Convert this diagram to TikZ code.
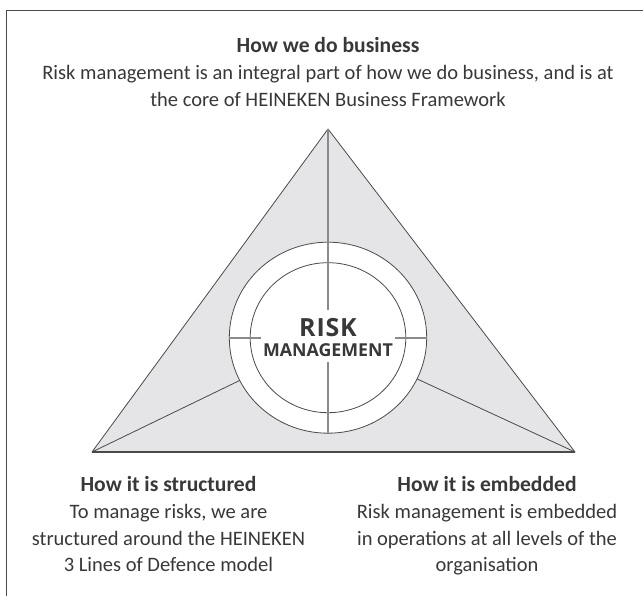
\documentclass[tikz,border=0pt]{standalone}
\usepackage{fontspec}
\setmainfont{Carlito}
\newfontfamily\hubfont{Open Sans}
\usetikzlibrary{calc}
\definecolor{ink}{HTML}{383838}
\definecolor{edge}{HTML}{4A4A4A}
\definecolor{tint}{HTML}{E5E5E7}
\definecolor{hair}{HTML}{8A8A8A}
\tikzset{
  frame/.style={draw=edge, line width=0.9pt},
  tri/.style={fill=tint, draw=edge, line width=0.8pt, line join=round},
  base/.style={draw=edge, line width=1.3pt},
  spoke/.style={draw=edge, line width=0.8pt},
  ring/.style={fill=white, draw=edge, line width=0.8pt},
  cross/.style={draw=hair, line width=1.4pt},
  head/.style={anchor=base, inner sep=0pt, text=ink, font=\fontsize{21.6}{25}\selectfont\bfseries},
  body/.style={anchor=base, inner sep=0pt, text=ink, font=\fontsize{20.5}{24}\selectfont},
  hub/.style={anchor=base, inner sep=0pt, text=ink, font=\hubfont\bfseries},
}
\begin{document}
\begin{tikzpicture}[x=1pt, y=-1pt]
  \useasboundingbox (0,0) rectangle (643,596);

  % page frame (top and left rules)
  \draw[frame] (643,10) -- (6,10) -- (6,596);

  % triangle corners and centre of the hub
  \coordinate (apex) at (328,129);
  \coordinate (bl) at (92,452);
  \coordinate (br) at (575,452);
  \coordinate (c) at (328,337.7);

  \path[tri] (bl) -- (apex) -- (br) -- cycle;
  \draw[base] (bl) -- (br);
  \draw[spoke] (bl) -- (c);
  \draw[spoke] (br) -- (c);

  % hub rings
  \path[ring] (c) ellipse [x radius=98.7, y radius=95.5];
  \path[ring] (c) ellipse [x radius=77.8, y radius=75];

  % cross hairs
  \draw[cross] (apex) -- ($(c)+(0,-27.7)$);
  \draw[cross] ($(c)+(0,24.3)$) -- ($(c)+(0,95.5)$);
  \draw[cross] ($(c)+(-98.7,0.3)$) -- ($(c)+(-67,0.3)$);
  \draw[cross] ($(c)+(67,0.3)$) -- ($(c)+(98.7,0.3)$);

  % hub label
  \node[hub, font=\hubfont\bfseries\fontsize{25}{28}\selectfont] (risk) at (328,336) {R\kern0.8pt I\kern0.8pt S\kern0.8pt K};
  \node[hub, font=\hubfont\bfseries\fontsize{17.8}{21}\selectfont] (mgmt) at (328,356) {MANAGEMENT};

  % top text
  \node[head] (t0) at (328,53) {How we do business};
  \node[body] (t1) at (328,80) {Risk management is an integral part of how we do business, and is at};
  \node[body] (t2) at (328,106.5) {the core of HEINEKEN Business Framework};

  % bottom left text
  \node[head] (l0) at (168.5,491) {How it is structured};
  \node[body] (l1) at (168.5,518) {To manage risks, we are};
  \node[body] (l2) at (168.5,545) {structured around the HEINEKEN};
  \node[body] (l3) at (168.5,571.5) {3 Lines of Defence model};

  % bottom right text
  \node[head] (r0) at (487,491) {How it is embedded};
  \node[body] (r1) at (487,518) {Risk management is embedded};
  \node[body] (r2) at (487,545) {in operations at all levels of the};
  \node[body] (r3) at (487,571.5) {organisation};
\end{tikzpicture}
\end{document}
